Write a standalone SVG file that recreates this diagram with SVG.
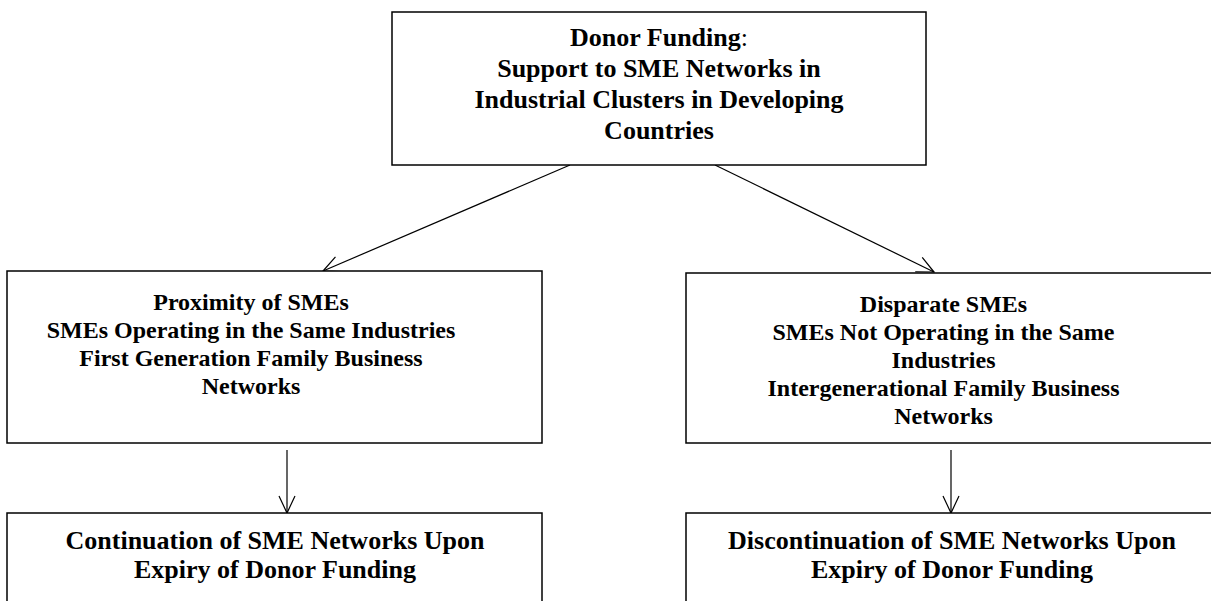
<svg xmlns="http://www.w3.org/2000/svg" width="1211" height="601" viewBox="0 0 1211 601">
<style>
.box{fill:#fff;stroke:#000;stroke-width:1.5}
.t{font-family:"Liberation Serif","Times New Roman",serif;font-weight:bold;text-anchor:middle;fill:#000}
.t24{font-size:24px}
.t26{font-size:26px}
.conn{fill:none;stroke:#000;stroke-width:1.2}
</style>
<defs>
<marker id="arr" markerUnits="userSpaceOnUse" markerWidth="40" markerHeight="40" refX="0" refY="0" viewBox="-20 -20 40 40" orient="auto" overflow="visible">
<path d="M-17,-8 L0,0 L-17,8" fill="none" stroke="#000" stroke-width="1.2"/>
</marker>
</defs>
<rect width="1211" height="601" fill="#fff"/>
<g id="connectors">
<line class="conn" x1="570" y1="165" x2="323" y2="271" marker-end="url(#arr)"/>
<line class="conn" x1="715" y1="165" x2="934" y2="272" marker-end="url(#arr)"/>
<line class="conn" x1="287" y1="450" x2="287" y2="513" marker-end="url(#arr)"/>
<line class="conn" x1="951" y1="450" x2="951" y2="513" marker-end="url(#arr)"/>
</g>
<g id="node-donor">
<rect class="box" x="392" y="12" width="534" height="153"/>
<text class="t t26" x="659" y="46">Donor Funding<tspan font-weight="normal">:</tspan></text>
<text class="t t26" x="659" y="77">Support to SME Networks in</text>
<text class="t t26" x="659" y="108">Industrial Clusters in Developing</text>
<text class="t t26" x="659" y="139">Countries</text>
</g>
<g id="node-proximity">
<rect class="box" x="7" y="271" width="535" height="172"/>
<text class="t t24" x="251" y="310">Proximity of SMEs</text>
<text class="t t24" x="251" y="338">SMEs Operating in the Same Industries</text>
<text class="t t24" x="251" y="366">First Generation Family Business</text>
<text class="t t24" x="251" y="394">Networks</text>
</g>
<g id="node-disparate">
<rect class="box" x="686" y="273" width="540" height="170"/>
<text class="t t24" x="943.5" y="312">Disparate SMEs</text>
<text class="t t24" x="943.5" y="340">SMEs Not Operating in the Same</text>
<text class="t t24" x="943.5" y="368">Industries</text>
<text class="t t24" x="943.5" y="396">Intergenerational Family Business</text>
<text class="t t24" x="943.5" y="424">Networks</text>
</g>
<g id="node-continuation">
<rect class="box" x="7" y="513" width="535" height="110"/>
<text class="t t26" x="275" y="549">Continuation of SME Networks Upon</text>
<text class="t t26" x="275" y="578">Expiry of Donor Funding</text>
</g>
<g id="node-discontinuation">
<rect class="box" x="686" y="513" width="540" height="110"/>
<text class="t t26" x="952" y="549">Discontinuation of SME Networks Upon</text>
<text class="t t26" x="952" y="578">Expiry of Donor Funding</text>
</g>
</svg>
